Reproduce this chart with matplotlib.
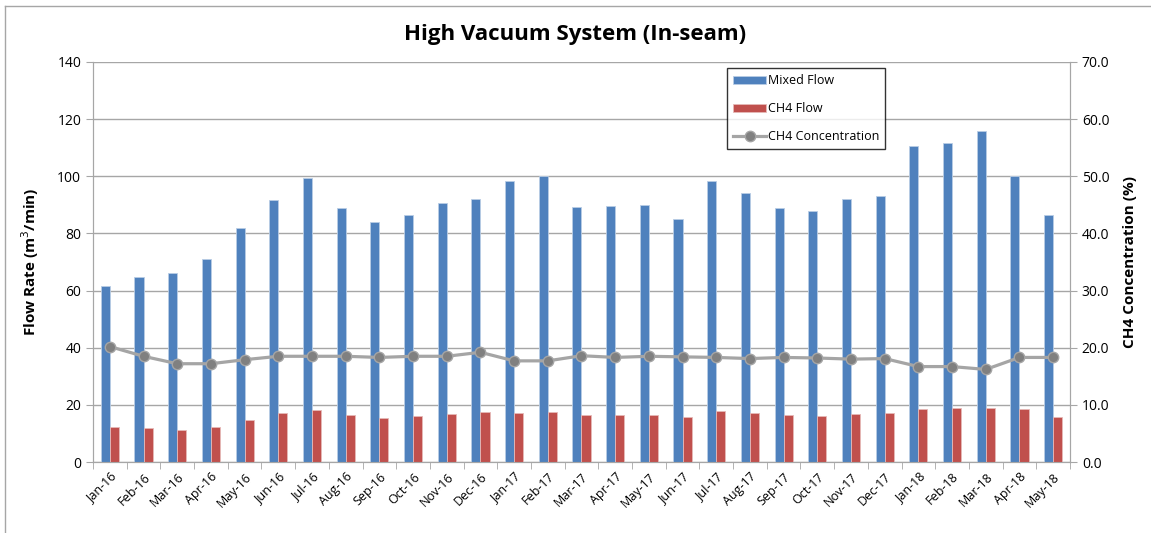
import numpy as np
import matplotlib.pyplot as plt
from matplotlib.lines import Line2D

plt.rcParams['font.family'] = ['Open Sans', 'DejaVu Sans']

months = ['Jan-16', 'Feb-16', 'Mar-16', 'Apr-16', 'May-16', 'Jun-16', 'Jul-16', 'Aug-16',
          'Sep-16', 'Oct-16', 'Nov-16', 'Dec-16', 'Jan-17', 'Feb-17', 'Mar-17', 'Apr-17',
          'May-17', 'Jun-17', 'Jul-17', 'Aug-17', 'Sep-17', 'Oct-17', 'Nov-17', 'Dec-17',
          'Jan-18', 'Feb-18', 'Mar-18', 'Apr-18', 'May-18']
mixed_flow = [61.5, 64.7, 66.0, 71.0, 82.0, 91.7, 99.3, 89.0, 84.0, 86.5, 90.5, 92.0,
              98.3, 100.0, 89.3, 89.7, 90.0, 85.0, 98.5, 94.3, 88.8, 87.8, 92.2, 93.0,
              110.5, 111.8, 115.8, 100.0, 86.3]
ch4_flow = [12.3, 11.8, 11.2, 12.1, 14.8, 17.0, 18.3, 16.5, 15.4, 16.0, 16.7, 17.6,
            17.3, 17.6, 16.5, 16.3, 16.5, 15.7, 17.9, 17.1, 16.4, 16.1, 16.7, 17.0,
            18.5, 18.8, 18.9, 18.4, 15.9]
ch4_conc = [20.2, 18.5, 17.2, 17.2, 17.9, 18.5, 18.5, 18.5, 18.3, 18.5, 18.5, 19.2,
            17.7, 17.7, 18.6, 18.3, 18.5, 18.4, 18.3, 18.1, 18.3, 18.2, 18.0, 18.1,
            16.7, 16.7, 16.2, 18.3, 18.3]

x = np.arange(len(months))
w = 0.27

fig = plt.figure(figsize=(11.51, 5.33), dpi=100)
ax = fig.add_axes([0.0808, 0.1332, 0.8488, 0.7505])

# chart frame: only top and left edges are visible in the crop
frame_c = '#a6a6a6'
fig.lines.append(Line2D([0.004, 1.0], [0.989, 0.989], transform=fig.transFigure,
                        color=frame_c, linewidth=1))
fig.lines.append(Line2D([0.004, 0.004], [0.0, 0.989], transform=fig.transFigure,
                        color=frame_c, linewidth=1))

grid_c = '#a6a6a6'
ax.bar(x - w / 2, mixed_flow, w, color='#4f81bd', edgecolor='#b9cde5', linewidth=0.6,
       label='Mixed Flow', zorder=3)
ax.bar(x + w / 2, ch4_flow, w, color='#c0504d', edgecolor='#e6b9b8', linewidth=0.6,
       label='CH4 Flow', zorder=3)

ax.set_xlim(-0.5, len(months) - 0.5)
ax.set_ylim(0, 140)
ax.set_yticks(range(0, 141, 20))
ax.yaxis.grid(True, color=grid_c, linewidth=1, zorder=0)
ax.set_axisbelow(True)
ax.set_xticks(x)
ax.set_xticklabels(months, rotation=45, ha='right', rotation_mode='anchor', fontsize=9)
ax.set_xticks(np.arange(-0.5, len(months)), minor=True)
ax.tick_params(axis='x', which='major', length=0, pad=6)
ax.tick_params(axis='x', which='minor', length=5, color=grid_c)
ax.tick_params(axis='y', length=5, color=grid_c, labelsize=10)
ax.set_ylabel('Flow Rate (m$^3$/min)', fontsize=11, fontweight='bold', labelpad=12)
ax.spines['top'].set_visible(False)
for s in ['left', 'bottom', 'right']:
    ax.spines[s].set_color(grid_c)

ax2 = ax.twinx()
ax2.plot(x, ch4_conc, color='#a5a5a5', linewidth=2.3, marker='o', markersize=7.5,
         markerfacecolor='#808080', markeredgecolor='#a5a5a5', label='CH4 Concentration', zorder=4)
ax2.set_ylim(0, 70)
ax2.set_yticks(range(0, 71, 10))
ax2.set_yticklabels([f'{v:.1f}' for v in range(0, 71, 10)])
ax2.tick_params(axis='y', length=5, color=grid_c, labelsize=10)
ax2.set_ylabel('CH4 Concentration (%)', fontsize=11, fontweight='bold', labelpad=10)
ax2.spines['top'].set_visible(False)
for s in ['left', 'bottom', 'right']:
    ax2.spines[s].set_color(grid_c)

h1, l1 = ax.get_legend_handles_labels()
h2, l2 = ax2.get_legend_handles_labels()
leg = ax2.legend(h1 + h2, l1 + l2, loc='upper left', bbox_to_anchor=(0.649, 0.985),
                 fontsize=9, frameon=True, fancybox=False, edgecolor='black',
                 labelspacing=1.2, handlelength=2.6, handleheight=0.55,
                 handletextpad=0.15, borderpad=0.5, borderaxespad=0)
leg.get_frame().set_linewidth(1)

fig.suptitle('High Vacuum System (In-seam)', fontsize=16, fontweight='bold', y=0.955)

fig.savefig('out.png', dpi=100)
